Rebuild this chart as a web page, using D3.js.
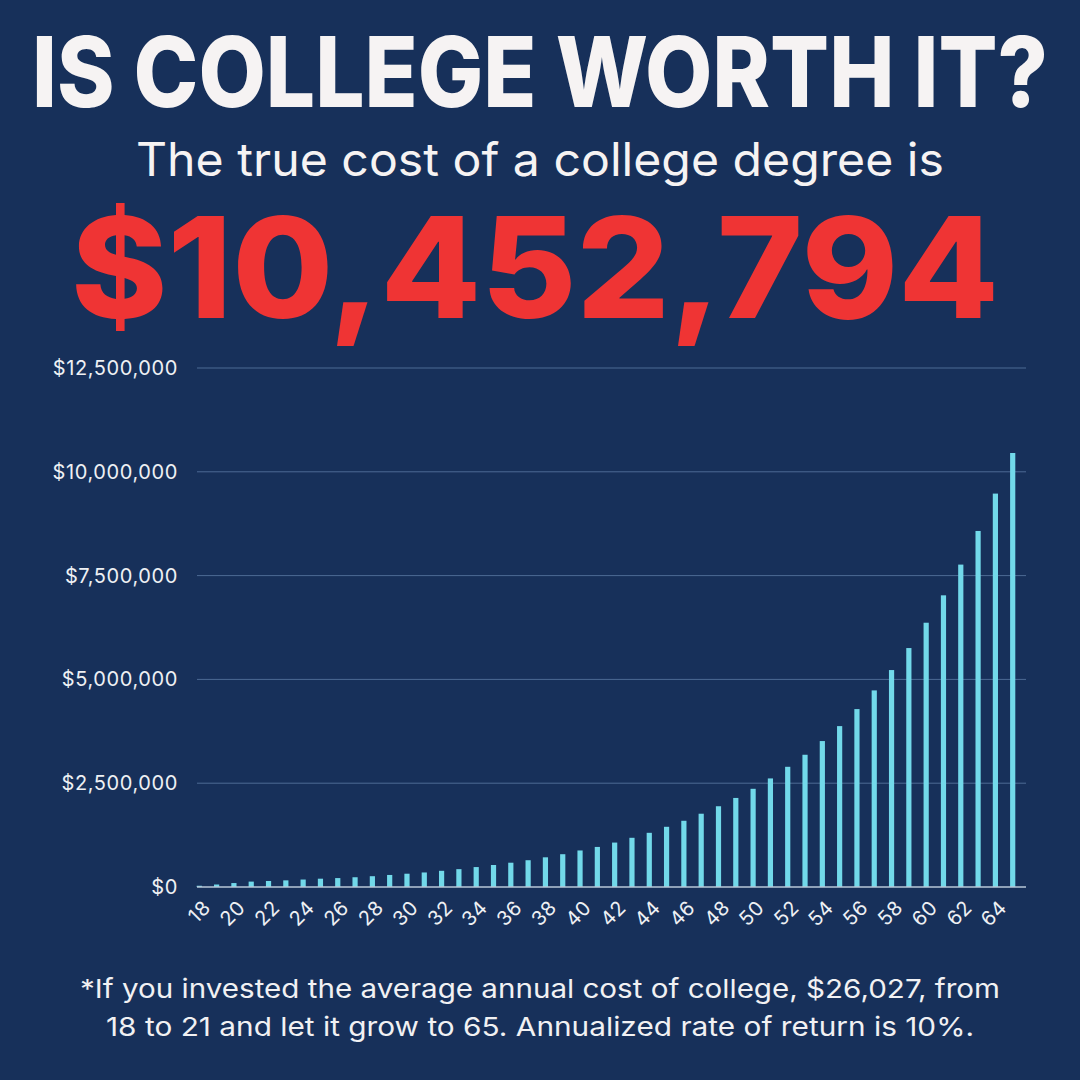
<!DOCTYPE html>
<html>
<head>
<meta charset="utf-8">
<script src="https://cdn.jsdelivr.net/npm/d3@7"></script>
<style>
  html, body { margin: 0; padding: 0; background: #17305a; }
  svg { display: block; }
</style>
</head>
<body>
<div id="chart"></div>
<script>
// ages on the x axis, one bar each
var ages = [18, 19, 20, 21, 22, 23, 24, 25, 26, 27, 28, 29, 30, 31, 32, 33,
  34, 35, 36, 37, 38, 39, 40, 41, 42, 43, 44, 45, 46, 47, 48, 49, 50, 51,
  52, 53, 54, 55, 56, 57, 58, 59, 60, 61, 62, 63, 64, 65];

// portfolio value at each age
var values = [30000, 60000, 95000, 130000, 145000, 160000, 180000, 200000,
  215000, 235000, 260000, 290000, 320000, 350000, 390000, 430000, 480000,
  530000, 585000, 645000, 715000, 790000, 880000, 965000, 1070000, 1185000,
  1305000, 1450000, 1595000, 1765000, 1945000, 2145000, 2365000, 2615000,
  2895000, 3185000, 3515000, 3875000, 4285000, 4735000, 5225000, 5755000,
  6365000, 7025000, 7765000, 8575000, 9475000, 10452794];

var yTicks = [0, 2500000, 5000000, 7500000, 10000000, 12500000];
var xTickAges = [18, 20, 22, 24, 26, 28, 30, 32, 34, 36, 38, 40, 42, 44, 46,
  48, 50, 52, 54, 56, 58, 60, 62, 64];

var title = 'IS COLLEGE WORTH IT?';
var subtitle = 'The true cost of a college degree is';
var bigNumber = '$10,452,794';
var footnote = [
  '*If you invested the average annual cost of college, $26,027, from',
  '18 to 21 and let it grow to 65. Annualized rate of return is 10%.'
];

var W = 1080, H = 1080;
var font = 'Inter, "Open Sans", sans-serif';

var svg = d3.select('#chart').append('svg')
  .attr('width', W)
  .attr('height', H);

svg.append('rect')
  .attr('width', W)
  .attr('height', H)
  .attr('fill', '#17305a');

// headings
svg.append('text')
  .attr('x', 540).attr('y', 107)
  .attr('text-anchor', 'middle')
  .attr('font-family', font)
  .attr('font-weight', 800)
  .attr('font-size', 97)
  .attr('textLength', 1016)
  .attr('lengthAdjust', 'spacingAndGlyphs')
  .attr('fill', '#f6f3f3')
  .text(title);

svg.append('text')
  .attr('x', 540).attr('y', 176)
  .attr('text-anchor', 'middle')
  .attr('font-family', font)
  .attr('font-weight', 400)
  .attr('font-size', 46)
  .attr('textLength', 808)
  .attr('lengthAdjust', 'spacingAndGlyphs')
  .attr('fill', '#f6f3f3')
  .text(subtitle);

svg.append('text')
  .attr('x', 535).attr('y', 318)
  .attr('text-anchor', 'middle')
  .attr('font-family', font)
  .attr('font-weight', 800)
  .attr('font-size', 140)
  .attr('textLength', 928)
  .attr('lengthAdjust', 'spacingAndGlyphs')
  .attr('fill', '#ef3434')
  .text(bigNumber);

// chart
var x = d3.scalePoint()
  .domain(ages)
  .range([199.3, 1012.7]);

var y = d3.scaleLinear()
  .domain([0, 12500000])
  .range([887, 368]);

var gridLeft = 197, gridRight = 1026;

var yAxis = d3.axisLeft(y)
  .tickValues(yTicks)
  .tickSize(0)
  .tickPadding(0)
  .tickFormat(function(d) { return '$' + d3.format(',')(d); });

var gy = svg.append('g')
  .attr('transform', 'translate(178,0)')
  .call(yAxis);
gy.select('.domain').remove();
gy.selectAll('text')
  .attr('font-family', font)
  .attr('font-size', 20)
  .attr('letter-spacing', 0.6)
  .attr('fill', '#eef0f4');

svg.append('g').selectAll('line')
  .data(yTicks.slice(1))
  .enter()
  .append('line')
  .attr('x1', gridLeft)
  .attr('x2', gridRight)
  .attr('y1', function(d) { return y(d); })
  .attr('y2', function(d) { return y(d); })
  .attr('stroke', '#4d6a94')
  .attr('stroke-width', 1);

svg.append('g').selectAll('rect')
  .data(values)
  .enter()
  .append('rect')
  .attr('x', function(d, i) { return x(ages[i]) - 2.6; })
  .attr('width', 5.2)
  .attr('y', function(d) { return y(d); })
  .attr('height', function(d) { return y(0) - y(d); })
  .attr('fill', '#72d9ea');

svg.append('line')
  .attr('x1', gridLeft)
  .attr('x2', gridRight)
  .attr('y1', y(0))
  .attr('y2', y(0))
  .attr('stroke', '#b9c7d8')
  .attr('stroke-width', 1.5);

var xAxis = d3.axisBottom(x)
  .tickValues(xTickAges)
  .tickSize(0)
  .tickPadding(0);

var gx = svg.append('g')
  .attr('transform', 'translate(0,' + y(0) + ')')
  .call(xAxis);
gx.select('.domain').remove();
gx.selectAll('text')
  .attr('font-family', font)
  .attr('font-size', 20)
  .attr('letter-spacing', 0.5)
  .attr('fill', '#eef0f4')
  .attr('text-anchor', 'end')
  .attr('dy', 0)
  .attr('y', 0)
  .attr('transform', 'translate(12,22) rotate(-45)');

// footnote
svg.append('g').selectAll('text')
  .data(footnote)
  .enter()
  .append('text')
  .attr('x', 540)
  .attr('y', function(d, i) { return 998 + i * 38; })
  .attr('text-anchor', 'middle')
  .attr('font-family', font)
  .attr('font-size', 26)
  .attr('fill', '#f1f1f3')
  .attr('textLength', function(d, i) { return i === 0 ? 920 : 868; })
  .attr('lengthAdjust', 'spacingAndGlyphs')
  .text(function(d) { return d; });
</script>
</body>
</html>
